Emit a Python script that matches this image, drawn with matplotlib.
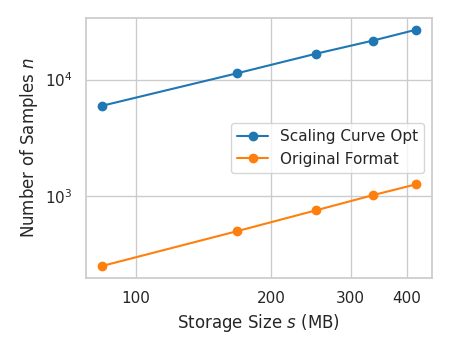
import matplotlib
matplotlib.use("Agg")
import matplotlib.pyplot as plt
import seaborn as sns
from matplotlib.ticker import NullLocator

# data
storage_mb = [84, 168, 252, 336, 420]
samples_opt = [5950, 11320, 16680, 21540, 26760]
samples_orig = [252, 502, 759, 1020, 1266]
xtick_vals = [100, 200, 300, 400]

sns.set_theme(style="whitegrid", palette="tab10")

fig, ax = plt.subplots(figsize=(4.5, 3.5), dpi=100)
ax.plot(storage_mb, samples_opt, marker="o", label="Scaling Curve Opt")
ax.plot(storage_mb, samples_orig, marker="o", label="Original Format")
ax.set_xscale("log")
ax.set_yscale("log")

ax.xaxis.set_minor_locator(NullLocator())
ax.yaxis.set_minor_locator(NullLocator())
ax.set_xticks(xtick_vals)
ax.set_xticklabels([str(v) for v in xtick_vals])

ax.set_xlabel("Storage Size $s$ (MB)")
ax.set_ylabel("Number of Samples $n$")
ax.legend(loc="center right")

fig.subplots_adjust(left=0.191, right=0.96, top=0.949, bottom=0.206)
fig.savefig("out.png", dpi=100)
